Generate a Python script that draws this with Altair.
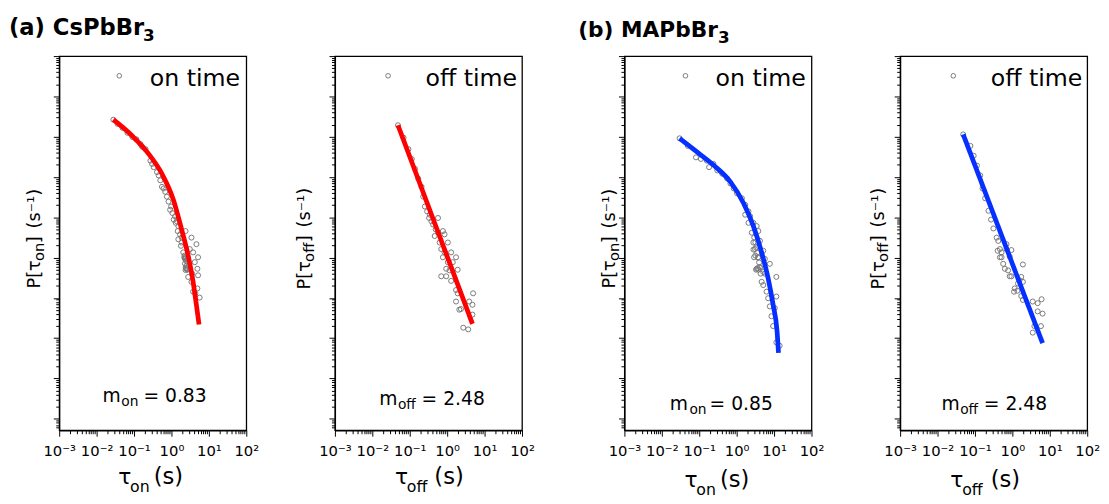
import altair as alt
import numpy as np
import pandas as pd

FONT = "DejaVu Sans"
GRAY = "#7a7a7a"
RED = "#ff0000"
BLUE = "#0530ff"
W, H = 190, 380

# ---------------- axis tick values / labels ----------------
X_DECADES = [-3, -2, -1, 0, 1, 2]
X_TICK_LABELS = ["10⁻³", "10⁻²", "10⁻¹", "10⁰", "10¹", "10²"]
Y_LOG_MIN, Y_LOG_MAX = -5.285, 4.0

# ---------------- data: log10 values ----------------
# (a) CsPbBr3, on-time
cs_on_log_tau = [-1.553, -1.439, -1.307, -1.175, -1.044, -0.939, -0.825, -0.781, -0.693, -0.561,
                 -0.518, -0.474, -0.386, -0.342, -0.298, -0.254, -0.211, -0.167, -0.123, -0.079,
                 -0.035, -0.009, 0.026, 0.061, 0.097, 0.114, 0.140, 0.184, 0.167, 0.228,
                 0.184, 0.272, 0.272, 0.377, 0.535, 0.667, 0.491, 0.579, 0.711, 0.254,
                 0.316, 0.377, 0.342, 0.360, 0.623, 0.430, 0.693, 0.404, 0.395, 0.377,
                 0.430, 0.447, 0.711, 0.553, 0.535, 0.579, 0.693, 0.640, 0.754,
                 0.350, 0.370, 0.390, 0.360, 0.400, 0.380, 0.420, 0.410]
cs_on_log_p = [2.422, 2.317, 2.219, 2.097, 1.992, 1.935, 1.813, 1.748, 1.691, 1.406,
               1.325, 1.244, 1.122, 1.040, 0.918, 0.756, 0.715, 0.634, 0.512, 0.390,
               0.187, 0.268, 0.105, -0.057, 0.024, -0.138, -0.098, -0.220, -0.342, -0.423,
               -0.545, -0.626, -0.504, -0.342, -0.504, -0.667, -0.789, -0.870, -0.992, -0.708,
               -0.870, -0.992, -0.992, -1.033, -1.114, -1.114, -1.277, -1.277, -1.260, -1.309,
               -1.293, -1.480, -1.439, -1.399, -1.602, -1.846, -1.765, -1.886, -1.992,
               -0.950, -1.020, -1.080, -1.150, -1.200, -1.250, -1.300, -1.050]
cs_on_fit_log_tau = [-1.553, -1.045, -0.605, -0.255, 0.053, 0.271, 0.447, 0.579, 0.666, 0.737]
cs_on_fit_log_p = [2.422, 2.017, 1.568, 1.080, 0.432, -0.300, -0.951, -1.602, -2.171, -2.659]

# (a) CsPbBr3, off-time
cs_off_log_tau = [-1.315, -1.166, -1.035, -0.947, -0.859, -0.772, -0.684, -0.640, -0.596, -0.535,
                  -0.482, -0.465, -0.421, -0.377, -0.307, -0.245, -0.245, -0.114, -0.070, -0.333,
                  -0.201, 0.018, -0.158, -0.070, 0.106, 0.237, -0.114, 0.150, 0.018, -0.026,
                  0.062, 0.281, -0.158, -0.026, 0.106, 0.237, 0.281, 0.693, 0.237, 0.588,
                  0.676, 0.325, 0.369, 0.676, 0.430, 0.562]
cs_off_log_p = [2.284, 1.975, 1.691, 1.447, 1.203, 0.959, 0.756, 0.512, 0.268, 0.146,
                -0.017, 0.065, -0.098, -0.179, -0.301, -0.382, -0.017, -0.342, -0.423, -0.464,
                -0.626, -0.626, -0.789, -0.870, -0.870, -0.992, -0.992, -1.114, -1.114, -1.277,
                -1.317, -1.301, -1.464, -1.464, -1.578, -1.805, -1.886, -1.886, -2.090, -2.090,
                -2.171, -2.293, -2.277, -2.415, -2.740, -2.781]
cs_off_fit_log_tau = [-1.315, 0.676]
cs_off_fit_log_p = [2.284, -2.643]

# (b) MAPbBr3, on-time
ma_on_log_tau = [-1.526, -1.307, -1.088, -0.956, -0.798, -0.737, -0.623, -0.518, -0.386, -0.254,
                 -0.167, -0.079, 0.009, 0.140, 0.228, 0.316, 0.360, 0.447, 0.535, 0.579,
                 0.228, 0.316, 0.404, 0.447, 0.491, 0.623, 0.711, 0.754, 0.579, 0.535,
                 0.623, 0.886, 1.061, 0.667, 0.711, 0.798, 0.842, 1.061, 0.886, 1.018,
                 0.930, 0.974, 1.061, 1.149, 0.711, 0.640, 0.754, 0.465, 0.561, 0.518,
                 0.470, 0.500, 0.520, 0.550, 0.570, 0.600, 0.620, 0.580, 0.500, 0.450]
ma_on_log_p = [1.960, 1.773, 1.488, 1.448, 1.407, 1.244, 1.326, 1.163, 1.082, 0.960,
               0.838, 0.716, 0.594, 0.472, 0.309, 0.147, 0.025, -0.138, -0.219, -0.341,
               0.065, -0.138, -0.382, -0.626, -0.788, -0.585, -0.829, -1.032, -0.991, -1.276,
               -1.235, -1.154, -1.479, -1.601, -1.682, -1.845, -2.008, -1.967, -2.211, -2.252,
               -2.455, -2.699, -3.105, -3.187, -1.357, -1.398, -1.398, -0.991, -1.260, -1.300,
               -0.500, -0.620, -0.750, -0.880, -1.000, -1.120, -1.250, -1.300, -0.950, -0.800]
ma_on_fit_log_tau = [-1.526, -1.044, -0.605, -0.167, 0.184, 0.447, 0.667, 0.842, 0.974, 1.079, 1.118]
ma_on_fit_log_p = [1.960, 1.610, 1.285, 0.879, 0.350, -0.219, -0.869, -1.520, -2.170, -2.821, -3.366]

# (b) MAPbBr3, off-time
ma_off_log_tau = [-1.315, -1.122, -1.035, -0.947, -0.859, -0.798, -0.728, -0.640, -0.570, -0.508,
                  -0.421, -0.377, -0.333, -0.394, -0.289, -0.158, -0.026, -0.070, -0.245, -0.201,
                  -0.114, -0.070, -0.026, 0.281, 0.237, 0.281, 0.062, 0.044, 0.132, 0.237,
                  0.281, 0.544, 0.676, 0.781, 0.676, 0.807, 0.588, 0.764, 0.544, -0.158,
                  -0.289, -0.333, 0.149, 0.193]
ma_off_log_p = [2.056, 1.772, 1.528, 1.284, 1.040, 0.715, 0.471, 0.162, -0.057, -0.277,
                -0.505, -0.586, -0.789, -0.830, -0.992, -0.789, -0.813, -0.976, -1.155, -1.277,
                -1.318, -1.464, -1.464, -1.171, -1.480, -1.602, -1.765, -1.846, -1.822, -1.952,
                -2.049, -2.090, -2.131, -2.033, -2.334, -2.391, -2.700, -2.700, -2.862, -0.667,
                -0.870, -0.992, -1.643, -1.561]
ma_off_fit_log_tau = [-1.315, 0.807]
ma_off_fit_log_p = [2.056, -3.122]

legend_texts = ["on time", "off time", "on time", "off time"]
slope_subs = ["on", "off", "on", "off"]
slope_values = ["0.83", "2.48", "0.85", "2.48"]
panel_titles = ["(a) CsPbBr", None, "(b) MAPbBr", None]


# ---------------- helpers ----------------
def log_tick_values(lo, hi):
    vals = []
    for d in range(int(np.floor(lo)), int(np.ceil(hi)) + 1):
        for k in range(1, 10):
            v = k * 10.0 ** d
            if 10.0 ** lo * 0.999 <= v <= 10.0 ** hi * 1.001:
                vals.append(v)
    return vals


E = "round(log(datum.value) / LN10)"
MAJOR = f"abs(log(datum.value) / LN10 - {E}) < 0.01"
x_label_expr = (f"({MAJOR}) ? (" +
                " : ".join(f"{E} == {d} ? '{lab}'" for d, lab in zip(X_DECADES, X_TICK_LABELS)) +
                " : '') : ''")
tick_size = {"condition": {"test": MAJOR, "value": 6}, "value": 3.5}

common_axis = dict(grid=False, title=None, tickColor="black", tickWidth=1,
                   domainColor="black", domainWidth=1.3, tickSize=tick_size)
x_axis = alt.Axis(values=log_tick_values(X_DECADES[0], X_DECADES[-1]), labelExpr=x_label_expr,
                  labelFlush=False, labelOverlap=False, labelPadding=8, labelFontSize=15,
                  labelFont=FONT, labelColor="black", **common_axis)
y_axis = alt.Axis(values=log_tick_values(Y_LOG_MIN, Y_LOG_MAX), labels=False, **common_axis)
x_scale = alt.Scale(type="log", domain=[10.0 ** X_DECADES[0], 10.0 ** X_DECADES[-1]], nice=False)
y_scale = alt.Scale(type="log", domain=[10.0 ** Y_LOG_MIN, 10.0 ** Y_LOG_MAX], nice=False)

ONE = pd.DataFrame({"k": [0]})


def txt(s, x, y, size, bold=False, angle=0, align="left"):
    return alt.Chart(ONE).mark_text(
        text=s, font=FONT, fontSize=size, fontWeight="bold" if bold else "normal",
        align=align, baseline="alphabetic", angle=angle, color="black"
    ).encode(x=alt.value(x), y=alt.value(y))


layout = [
    dict(L=51, R=20, leg_pt=61, leg_x=92, m=(44, 63, 85.5, 351), xt=(60, 72, 96, 435),
         yt=(-19, 236, 208, 190, 175), title=(-51, -21, 23, 85, -15)),
    dict(L=68, R=20, leg_pt=54, leg_x=92, m=(45, 64, 88, 354), xt=(61, 73, 101, 435),
         yt=(-25, 237, 209, 189, 174), title=None),
    dict(L=82, R=20, leg_pt=62, leg_x=92.5, m=(46, 66, 86.5, 359), xt=(61, 73, 97, 438),
         yt=(-10, 236, 208, 190, 175), title=(-47, -19, 22, 95, -13)),
    dict(L=68, R=0, leg_pt=54, leg_x=92, m=(42, 61, 85, 359), xt=(51, 63, 92, 438),
         yt=(-16, 237, 209, 189, 174), title=None),
]

series = [
    (cs_on_log_tau, cs_on_log_p, cs_on_fit_log_tau, cs_on_fit_log_p, RED),
    (cs_off_log_tau, cs_off_log_p, cs_off_fit_log_tau, cs_off_fit_log_p, RED),
    (ma_on_log_tau, ma_on_log_p, ma_on_fit_log_tau, ma_on_fit_log_p, BLUE),
    (ma_off_log_tau, ma_off_log_p, ma_off_fit_log_tau, ma_off_fit_log_p, BLUE),
]


def build_panel(i):
    lt, lp, flt, flp, color = series[i]
    cfg = layout[i]
    sc = pd.DataFrame({"tau": np.power(10.0, lt), "p": np.power(10.0, lp)})
    ft = pd.DataFrame({"tau": np.power(10.0, flt), "p": np.power(10.0, flp)})
    X = alt.X("tau:Q", scale=x_scale, axis=x_axis)
    Y = alt.Y("p:Q", scale=y_scale, axis=y_axis)

    layers = [
        # invisible extent marker used for panel spacing
        alt.Chart(ONE).mark_rule(opacity=0).encode(
            x=alt.value(-cfg["L"]), x2=alt.value(W + cfg["R"]), y=alt.value(-44)),
        alt.Chart(sc).mark_point(shape="circle", filled=False, color=GRAY, size=26,
                                 strokeWidth=1, opacity=1).encode(x=X, y=Y),
        alt.Chart(ft).mark_line(color=color, strokeWidth=4.8, interpolate="monotone").encode(x=X, y=Y),
        # legend
        alt.Chart(ONE).mark_point(shape="circle", filled=False, color=GRAY, size=22,
                                  strokeWidth=1, opacity=1).encode(
            x=alt.value(cfg["leg_pt"]), y=alt.value(20)),
        txt(legend_texts[i], cfg["leg_x"], 30, 24),
    ]
    # slope annotation  m_on = 0.83
    mx, sx, ex, mb = cfg["m"]
    layers += [txt("m", mx, mb, 19), txt(slope_subs[i], sx, mb + 4, 14),
               txt("= " + slope_values[i], ex, mb, 19)]
    # x title  τ_on (s)
    tx, tsx, px, tb = cfg["xt"]
    layers += [txt("τ", tx, tb, 22), txt(slope_subs[i], tsx, tb + 8, 16), txt("(s)", px, tb, 23)]
    # y title  P[τ_on] (s⁻¹), rotated
    bx, y0, y1, y2, y3 = cfg["yt"]
    layers += [txt("P[τ", bx, y0, 18, angle=270), txt(slope_subs[i], bx + 4, y1, 15, angle=270),
               txt("]", bx, y2, 18, angle=270), txt("(s⁻¹)", bx, y3, 18, angle=270)]
    if cfg["title"] is not None:
        ttx, tty, tsize, t3x, t3y = cfg["title"]
        layers += [txt(panel_titles[i], ttx, tty, tsize, bold=True), txt("3", t3x, t3y, 17, bold=True)]
    return alt.layer(*layers).properties(width=W, height=H)


chart = alt.concat(*[build_panel(i) for i in range(4)], columns=4, spacing=0,
                   align="each", bounds="full").properties(
    padding={"left": 0, "top": 0, "right": 0, "bottom": 0}, background="white"
).configure_view(stroke="black", strokeWidth=1.3)

chart.save("out.html", embed_options={"renderer": "svg", "actions": False})
